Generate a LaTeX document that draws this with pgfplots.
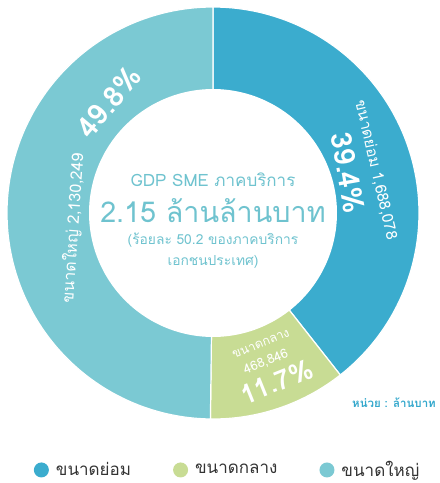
\documentclass[border=0pt]{standalone}
\usepackage{fontspec}
\setmainfont[Script=Thai]{Loma}
\usepackage{pgfplots}
\usepackage{pgfplotstable}
\pgfplotsset{compat=1.18}
\definecolor{cblue}{HTML}{3BACCE}
\definecolor{cgreen}{HTML}{C8DC94}
\definecolor{cteal}{HTML}{7BC9D3}
\definecolor{ctext}{HTML}{6FC3CF}
\definecolor{cunit}{HTML}{35A8CC}
\definecolor{clegend}{HTML}{333333}

\pgfplotstableread{
seg value share
0 1688078 39.4
1 468846 11.7
2 2130249 49.8
}\tbl

\pgfplotstablegetelem{0}{share}\of\tbl \let\sA\pgfplotsretval
\pgfplotstablegetelem{2}{share}\of\tbl \let\sC\pgfplotsretval
\pgfmathsetmacro{\bStart}{90-3.6*\sA}
\pgfmathsetmacro{\tEnd}{90+3.6*\sC}
\pgfmathsetmacro{\gStart}{\tEnd-360}

\begin{document}
\begin{tikzpicture}
\begin{axis}[
  x=1pt, y=1pt,
  xmin=-213, xmax=223, ymin=-270, ymax=213,
  hide axis, clip=false,
  legend columns=3,
  legend style={draw=none, fill=none, at={(rel axis cs:0.522,0.027)}, anchor=center,
    font=\fontsize{17}{19}\selectfont\color{clegend},
    /tikz/every even column/.append style={column sep=40pt},
    /tikz/every odd column/.append style={column sep=5pt}},
  legend image code/.code={\fill[#1, draw=none] (0pt,0pt) circle (7.5pt);},
]
\path (rel axis cs:0,0) rectangle (rel axis cs:1,1);
\addplot[fill=cblue, draw=white, line width=1.2pt, domain=\bStart:90, samples=120, variable=\t]
  ({206*cos(\t)}, {206*sin(\t)}) -- (axis cs:0,0) -- cycle;
\addlegendentry{ขนาดย่อม}
\addplot[fill=cgreen, draw=white, line width=1.2pt, domain=\gStart:\bStart, samples=60, variable=\t]
  ({206*cos(\t)}, {206*sin(\t)}) -- (axis cs:0,0) -- cycle;
\addlegendentry{ขนาดกลาง}
\addplot[fill=cteal, draw=white, line width=1.2pt, domain=90:\tEnd, samples=150, variable=\t]
  ({206*cos(\t)}, {206*sin(\t)}) -- (axis cs:0,0) -- cycle;
\addlegendentry{ขนาดใหญ่}
\addplot[forget plot, fill=white, draw=none, domain=0:360, samples=180, variable=\t]
  ({124*cos(\t)}, {124*sin(\t)}) -- cycle;

% center text
\node[ctext, font=\fontsize{17}{19}\selectfont] at (axis cs:0,33) {GDP SME ภาคบริการ};
\node[ctext, font=\fontsize{28.7}{31}\selectfont] at (axis cs:0,2) {2.15 ล้านล้านบาท};
\node[ctext, font=\fontsize{13.8}{15}\selectfont] at (axis cs:0,-27) {(ร้อยละ 50.2 ของภาคบริการ};
\node[ctext, font=\fontsize{13.8}{15}\selectfont] at (axis cs:0,-49) {เอกชนประเทศ)};

% ring labels
\node[white, rotate=-77, inner sep=0pt, font=\fontsize{15.5}{17}\selectfont] at (axis cs:163,43) {ขนาดย่อม 1,688,078};
\node[white, rotate=-80, inner sep=0pt, font=\bfseries\fontsize{29}{31}\selectfont] at (axis cs:135,40) {39.4\%};
\node[white, rotate=86, inner sep=0pt, font=\fontsize{16}{18}\selectfont] at (axis cs:-140,-15) {ขนาดใหญ่ 2,130,249};
\node[white, rotate=50, inner sep=0pt, font=\bfseries\fontsize{29}{31}\selectfont] at (axis cs:-104,111) {49.8\%};
\node[white, rotate=22, inner sep=0pt, font=\fontsize{12.5}{14}\selectfont] at (axis cs:48,-131) {ขนาดกลาง};
\node[white, rotate=22, inner sep=0pt, font=\fontsize{13}{15}\selectfont] at (axis cs:53,-149) {468,846};
\node[white, rotate=22, inner sep=0pt, font=\bfseries\fontsize{27}{29}\selectfont] at (axis cs:64,-169) {11.7\%};

\node[cunit, font=\bfseries\fontsize{11.5}{13}\selectfont] at (axis cs:181,-190) {หน่วย : ล้านบาท};
\end{axis}
\end{tikzpicture}
\end{document}
